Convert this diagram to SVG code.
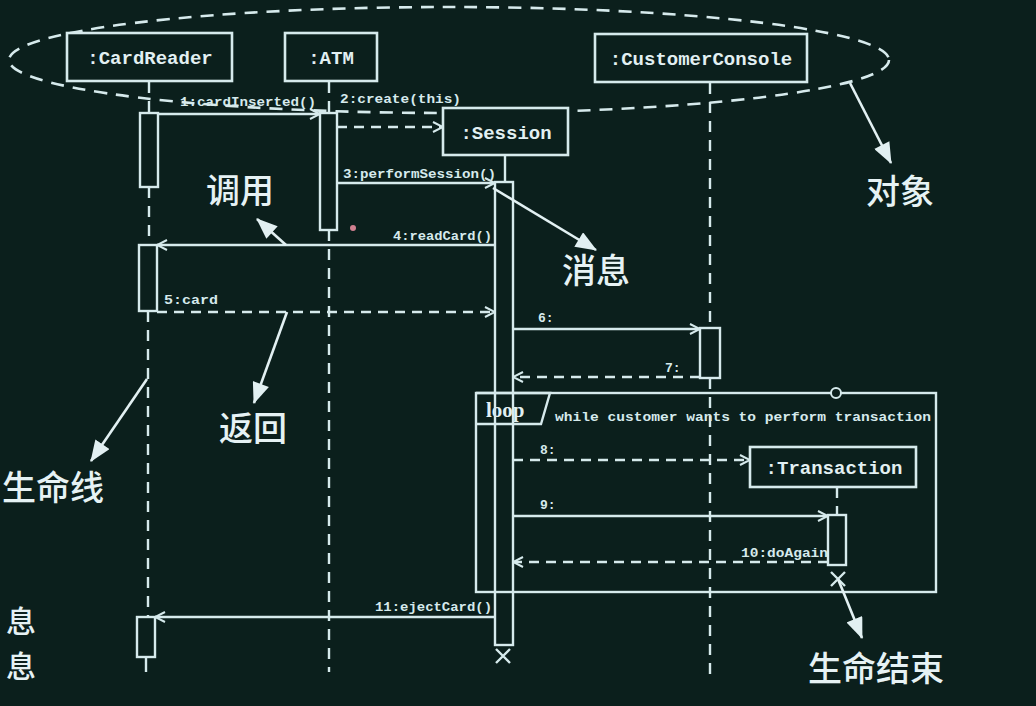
<svg xmlns="http://www.w3.org/2000/svg" width="1036" height="706" viewBox="0 0 1036 706">
<defs>
<style>
.ln{stroke:#d6eaec;stroke-width:2.4;fill:none}
.box{stroke:#d6eaec;stroke-width:2.6;fill:#0b1f1c}
.act{stroke:#d6eaec;stroke-width:2.4;fill:#0b1f1c}
.dash{stroke-dasharray:10 7}
.life{stroke:#d6eaec;stroke-width:2.4;fill:none;stroke-dasharray:11 8}
.obj{font-family:"Liberation Mono","DejaVu Sans Mono",monospace;font-weight:bold;font-size:19px;fill:#e2f0f2;text-anchor:middle}
.msg{font-family:"Liberation Mono","DejaVu Sans Mono",monospace;font-weight:bold;font-size:13px;fill:#d6eaec}
.cn{font-family:"Noto Sans CJK SC","Noto Sans CJK JP",sans-serif;font-size:34px;fill:#e6f2f4;font-weight:500}
.ann{stroke:#e2f0f2;stroke-width:2.6;fill:none}
</style>
<marker id="open" viewBox="0 0 12 12" refX="11" refY="6" markerWidth="12" markerHeight="12" markerUnits="userSpaceOnUse" orient="auto">
<path d="M1,1 L11,6 L1,11" fill="none" stroke="#d6eaec" stroke-width="2"/>
</marker>
<marker id="fill" viewBox="0 0 20 16" refX="19" refY="8" markerWidth="22" markerHeight="17" markerUnits="userSpaceOnUse" orient="auto">
<path d="M0,0 L20,8 L0,16 Z" fill="#e2f0f2"/>
</marker>
</defs>
<rect x="0" y="0" width="1036" height="706" fill="#0b1f1c"/>

<!-- object ellipse -->
<ellipse cx="449" cy="60" rx="440" ry="53" fill="none" stroke="#d6eaec" stroke-width="2.6" stroke-dasharray="13 9"/>

<!-- lifelines -->
<g id="lifelines">
<line class="life" x1="149" y1="82" x2="149" y2="113"/>
<line class="life" x1="149" y1="187" x2="149" y2="245"/>
<line class="life" x1="148" y1="311" x2="148" y2="617"/>
<line class="ln" x1="146" y1="657" x2="146" y2="672"/>
<line class="life" x1="329" y1="82" x2="329" y2="113"/>
<line class="life" x1="329" y1="230" x2="329" y2="672"/>
<line class="ln" x1="505" y1="155" x2="505" y2="182"/>
<line class="life" x1="710" y1="83" x2="710" y2="328"/>
<line class="life" x1="710" y1="378" x2="710" y2="674"/>
<line class="life" x1="837" y1="487" x2="837" y2="515"/>
</g>

<!-- loop frame -->
<g id="loop">
<rect x="476" y="393" width="460" height="199" fill="none" stroke="#d6eaec" stroke-width="2.4"/>
<path d="M476,393 L550,393 L541,424 L476,424" fill="none" stroke="#d6eaec" stroke-width="2.4"/>
<text x="486" y="417" style="font-family:'Liberation Serif','DejaVu Serif',serif;font-weight:bold;font-size:21px;fill:#e2f0f2">loop</text>
<text class="msg" x="555" y="421" textLength="376" lengthAdjust="spacingAndGlyphs">while customer wants to perform transaction</text>
<circle cx="836" cy="393" r="5" fill="#0b1f1c" stroke="#d6eaec" stroke-width="2"/>
</g>

<!-- objects -->
<g id="cardreader">
<rect class="box" x="67" y="33" width="165" height="48"/>
<text class="obj" x="150" y="64">:CardReader</text>
</g>
<g id="atm">
<rect class="box" x="285" y="33" width="92" height="48"/>
<text class="obj" x="331" y="64">:ATM</text>
</g>
<g id="customerconsole">
<rect class="box" x="595" y="34" width="212" height="48"/>
<text class="obj" x="701" y="65">:CustomerConsole</text>
</g>
<g id="session">
<rect class="box" x="443" y="108" width="125" height="47"/>
<text class="obj" x="506" y="139">:Session</text>
</g>
<g id="transaction">
<rect class="box" x="750" y="447" width="166" height="40"/>
<text class="obj" x="834" y="474">:Transaction</text>
</g>

<!-- activations -->
<g id="activations">
<rect class="act" x="140" y="113" width="18" height="74"/>
<rect class="act" x="139" y="245" width="18" height="66"/>
<rect class="act" x="137" y="617" width="18" height="40"/>
<rect class="act" x="320" y="113" width="17" height="117"/>
<rect class="ln" x="495" y="182" width="18" height="463"/>
<rect class="act" x="700" y="328" width="20" height="50"/>
<rect class="act" x="828" y="515" width="18" height="50"/>
<path class="ln" d="M496,649 L510,663 M510,649 L496,663"/>
<path class="ln" d="M831,572 L845,586 M845,572 L831,586"/>
</g>

<!-- messages -->
<g id="connectors">
<line class="ln" x1="158" y1="114" x2="320" y2="114" marker-end="url(#open)"/>
<text class="msg" x="180" y="106" textLength="136" lengthAdjust="spacingAndGlyphs">1:cardInserted()</text>
<line class="ln dash" x1="337" y1="127" x2="443" y2="127" marker-end="url(#open)"/>
<text class="msg" x="340" y="103" textLength="121" lengthAdjust="spacingAndGlyphs">2:create(this)</text>
<line class="ln" x1="337" y1="183" x2="495" y2="183" marker-end="url(#open)"/>
<text class="msg" x="343" y="178" textLength="153" lengthAdjust="spacingAndGlyphs">3:performSession()</text>
<line class="ln" x1="495" y1="245" x2="157" y2="245" marker-end="url(#open)"/>
<text class="msg" x="393" y="240" textLength="99" lengthAdjust="spacingAndGlyphs">4:readCard()</text>
<line class="ln dash" x1="157" y1="312" x2="495" y2="312" marker-end="url(#open)"/>
<text class="msg" x="164" y="304" textLength="54" lengthAdjust="spacingAndGlyphs">5:card</text>
<line class="ln" x1="513" y1="329" x2="700" y2="329" marker-end="url(#open)"/>
<text class="msg" x="538" y="322">6:</text>
<line class="ln dash" x1="700" y1="377" x2="513" y2="377" marker-end="url(#open)"/>
<text class="msg" x="665" y="372">7:</text>
<line class="ln dash" x1="513" y1="460" x2="750" y2="460" marker-end="url(#open)"/>
<text class="msg" x="540" y="454">8:</text>
<line class="ln" x1="513" y1="516" x2="828" y2="516" marker-end="url(#open)"/>
<text class="msg" x="540" y="509">9:</text>
<line class="ln dash" x1="828" y1="562" x2="513" y2="562" marker-end="url(#open)"/>
<text class="msg" x="741" y="557" textLength="87" lengthAdjust="spacingAndGlyphs">10:doAgain</text>
<line class="ln" x1="495" y1="617" x2="155" y2="617" marker-end="url(#open)"/>
<text class="msg" x="375" y="611" textLength="117" lengthAdjust="spacingAndGlyphs">11:ejectCard()</text>
</g>

<!-- annotations -->
<g id="annotations">
<line class="ann" x1="286" y1="245" x2="257" y2="219" marker-end="url(#fill)"/>
<text class="cn" x="206" y="203">调用</text>
<line class="ann" x1="850" y1="83" x2="891" y2="163" marker-end="url(#fill)"/>
<text class="cn" x="866" y="204">对象</text>
<line class="ann" x1="493" y1="188" x2="596" y2="250" marker-end="url(#fill)"/>
<text class="cn" x="562" y="283">消息</text>
<line class="ann" x1="287" y1="312" x2="254" y2="403" marker-end="url(#fill)"/>
<text class="cn" x="219" y="441">返回</text>
<line class="ann" x1="147" y1="379" x2="91" y2="461" marker-end="url(#fill)"/>
<text class="cn" x="2" y="500">生命线</text>
<line class="ann" x1="838" y1="579" x2="862" y2="638" marker-end="url(#fill)"/>
<text class="cn" x="808" y="681">生命结束</text>
<text class="cn" x="6" y="632" style="font-size:30px">息</text>
<text class="cn" x="6" y="677" style="font-size:30px">息</text>
<circle cx="353" cy="228" r="3" fill="#d08090"/>
</g>
</svg>
